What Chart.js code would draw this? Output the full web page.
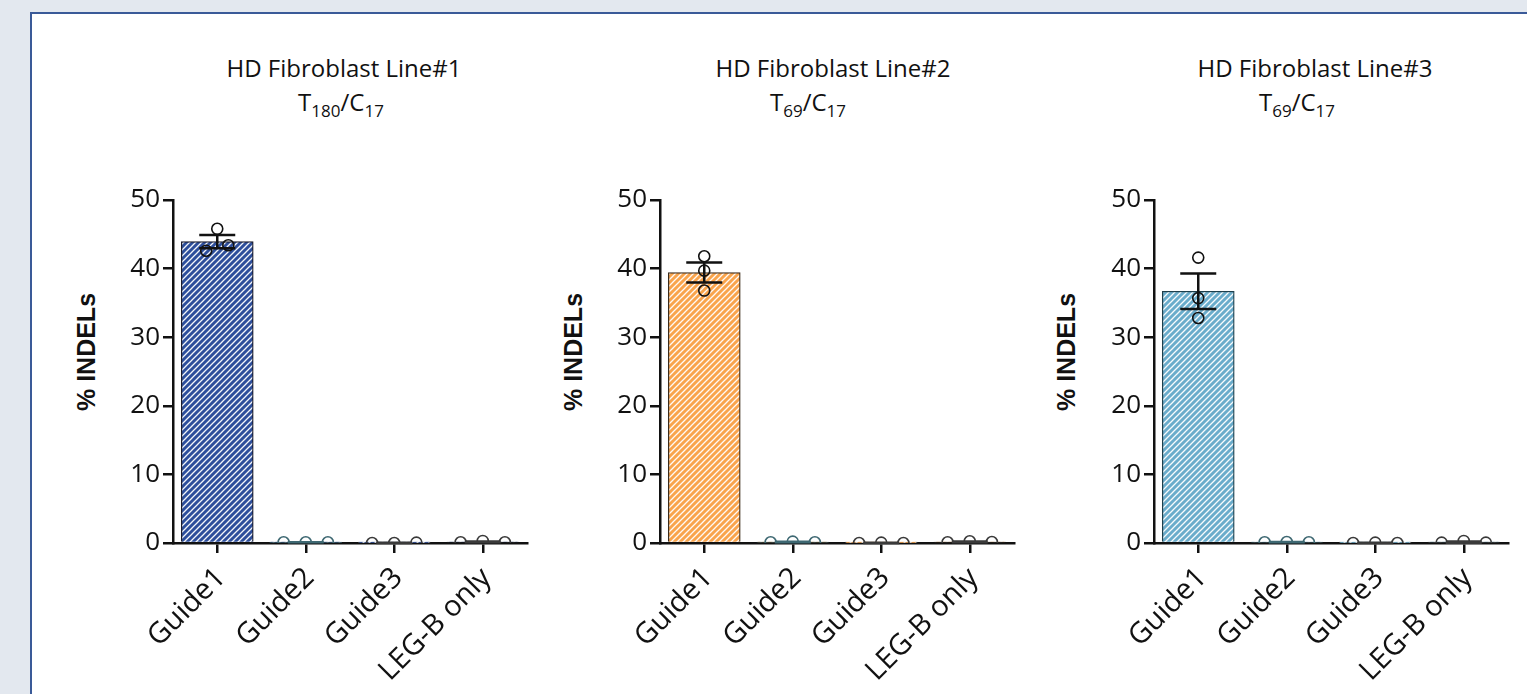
<!DOCTYPE html>
<html>
<head>
<meta charset="utf-8">
<script src="https://cdn.jsdelivr.net/npm/chart.js@4.4.1/dist/chart.umd.min.js"></script>
<style>
  html, body { margin: 0; padding: 0; }
  body { width: 1527px; height: 694px; background: #e3e8ef; position: relative; overflow: hidden; font-family: 'Open Sans', sans-serif; color: #111; }
  #frame { position: absolute; left: 30px; top: 12px; width: 1520px; height: 700px; background: #fff; border: 2.5px solid #3a5a98; box-sizing: border-box; }
  .box { position: absolute; top: 180px; width: 445px; height: 514px; }
  .title { position: absolute; width: 320px; text-align: center; font-size: 24px; line-height: 1; white-space: nowrap; }
  .title sub { font-size: 17px; vertical-align: -6px; line-height: 0; }
  .ylab { position: absolute; top: 352px; font-family: 'Liberation Sans', Arial, sans-serif; font-weight: bold; font-size: 25px; white-space: nowrap; transform: translate(-50%, -50%) rotate(-90deg); }
</style>
</head>
<body>
<div id="frame"></div>

<div class="title" style="left:184px; top:56px;">HD Fibroblast Line#1</div>
<div class="title" style="left:181px; top:90px;">T<sub>180</sub>/C<sub>17</sub></div>
<div class="title" style="left:673px; top:56px;">HD Fibroblast Line#2</div>
<div class="title" style="left:648px; top:90px;">T<sub>69</sub>/C<sub>17</sub></div>
<div class="title" style="left:1155px; top:56px;">HD Fibroblast Line#3</div>
<div class="title" style="left:1137px; top:90px;">T<sub>69</sub>/C<sub>17</sub></div>

<div class="ylab" style="left:86px;">% INDELs</div>
<div class="ylab" style="left:573px;">% INDELs</div>
<div class="ylab" style="left:1066px;">% INDELs</div>

<div class="box" style="left:90px;"><canvas id="line1"></canvas></div>
<div class="box" style="left:577px;"><canvas id="line2"></canvas></div>
<div class="box" style="left:1071px;"><canvas id="line3"></canvas></div>

<script>
// guides tested on each fibroblast line
const categories = ['Guide1', 'Guide2', 'Guide3', 'LEG-B only'];
const yTicks = [0, 10, 20, 30, 40, 50];

// % INDELs, three replicates per guide
const line1Values = [[42.6, 45.8, 43.4], [0.1, 0.1, 0.1], [0, 0, 0.05], [0.1, 0.3, 0.1]];
const line2Values = [[41.8, 39.7, 36.8], [0.1, 0.2, 0.1], [0, 0.05, 0], [0.1, 0.25, 0.15]];
const line3Values = [[41.6, 35.7, 32.8], [0.1, 0.15, 0.1], [0, 0.05, 0], [0.05, 0.3, 0.05]];

const barColors = ['#2d4e9b', '#f9a44c', '#6aaccb'];
const barEdges = ['#1c1c2a', '#3a2a1a', '#1d3f4c'];
const pointColors = ['#111111', '#3e6872', '#3a3a3a', '#3a3a3a'];
const FONT = "'Open Sans', sans-serif";

function mean(a) { return a.reduce((s, v) => s + v, 0) / a.length; }
function sem(a) {
  const m = mean(a);
  const sd = Math.sqrt(a.reduce((s, v) => s + (v - m) * (v - m), 0) / (a.length - 1));
  return sd / Math.sqrt(a.length);
}

// white diagonal hatching over the bar colour
function stripes(color) {
  const s = 6;
  const c = document.createElement('canvas');
  c.width = s; c.height = s;
  const g = c.getContext('2d');
  g.fillStyle = color;
  g.fillRect(0, 0, s, s);
  g.strokeStyle = 'rgba(255,255,255,0.95)';
  g.lineWidth = 1.3;
  g.beginPath();
  g.moveTo(0, s); g.lineTo(s, 0);
  g.moveTo(-s / 2, s / 2); g.lineTo(s / 2, -s / 2);
  g.moveTo(s / 2, s * 1.5); g.lineTo(s * 1.5, s / 2);
  g.stroke();
  return g.createPattern(c, 'repeat');
}

function makeChart(id, values, color, edge, firstSpread) {
  const pattern = stripes(color);
  const points = [];
  const pColors = [];
  values.forEach((reps, i) => {
    const spread = i === 0 ? firstSpread : 0.25;
    reps.forEach((v, j) => {
      points.push({ x: i + (j - 1) * spread, y: v });
      pColors.push(pointColors[i]);
    });
  });

  const errorBars = {
    id: 'errorBars',
    afterDatasetsDraw(chart) {
      const ctx = chart.ctx;
      const xs = chart.scales.x, ys = chart.scales.y;
      ctx.save();
      ctx.lineWidth = 2.5;
      values.forEach((reps, i) => {
        const m = mean(reps), e = sem(reps);
        const px = xs.getPixelForValue(i);
        const top = ys.getPixelForValue(m + e), bot = ys.getPixelForValue(Math.max(m - e, 0));
        ctx.strokeStyle = pointColors[i];
        ctx.beginPath();
        ctx.moveTo(px, top); ctx.lineTo(px, bot);
        ctx.moveTo(px - 18, top); ctx.lineTo(px + 18, top);
        ctx.moveTo(px - 18, bot); ctx.lineTo(px + 18, bot);
        ctx.stroke();
      });
      ctx.restore();
    }
  };

  return new Chart(document.getElementById(id), {
    type: 'bar',
    data: {
      datasets: [
        {
          type: 'scatter',
          data: points,
          order: 0,
          pointRadius: 5.5,
          pointBorderWidth: 1.6,
          pointBackgroundColor: 'rgba(0,0,0,0)',
          pointBorderColor: pColors,
          showLine: false
        },
        {
          data: values.map((r, i) => ({ x: i, y: mean(r) })),
          order: 1,
          grouped: false,
          barThickness: 72,
          backgroundColor: pattern,
          borderColor: [edge, '#3e6872', '#3a3a3a', '#3a3a3a'],
          borderWidth: 1.3
        }
      ]
    },
    options: {
      responsive: true,
      maintainAspectRatio: false,
      animation: false,
      layout: { padding: { top: 20, right: 8, left: 0, bottom: 0 } },
      plugins: { legend: { display: false }, tooltip: { enabled: false } },
      scales: {
        x: {
          type: 'linear',
          min: -0.5,
          max: 3.5,
          offset: false,
          afterBuildTicks(s) { s.ticks = categories.map((c, i) => ({ value: i })); },
          grid: { drawOnChartArea: false, offset: false, tickLength: 10, lineWidth: 2.5, color: '#111' },
          border: { display: true, color: '#111', width: 2.5 },
          ticks: {
            autoSkip: false, minRotation: 45, maxRotation: 45, padding: 8, labelOffset: 4, color: '#111',
            font: { family: FONT, size: 29 },
            callback: v => categories[v]
          },
          afterFit(s) { s.height = 151; }
        },
        y: {
          min: 0,
          max: 50,
          afterBuildTicks(s) { s.ticks = yTicks.map(v => ({ value: v })); },
          grid: { drawOnChartArea: false, tickLength: 10, lineWidth: 2.5, color: '#111' },
          border: { display: true, color: '#111', width: 2.5 },
          ticks: { padding: 3, color: '#111', font: { family: FONT, size: 26 } },
          afterFit(s) { s.width = 83; }
        }
      }
    },
    plugins: [errorBars]
  });
}

makeChart('line1', line1Values, barColors[0], barEdges[0], 0.125);
makeChart('line2', line2Values, barColors[1], barEdges[1], 0);
makeChart('line3', line3Values, barColors[2], barEdges[2], 0);
</script>
</body>
</html>
